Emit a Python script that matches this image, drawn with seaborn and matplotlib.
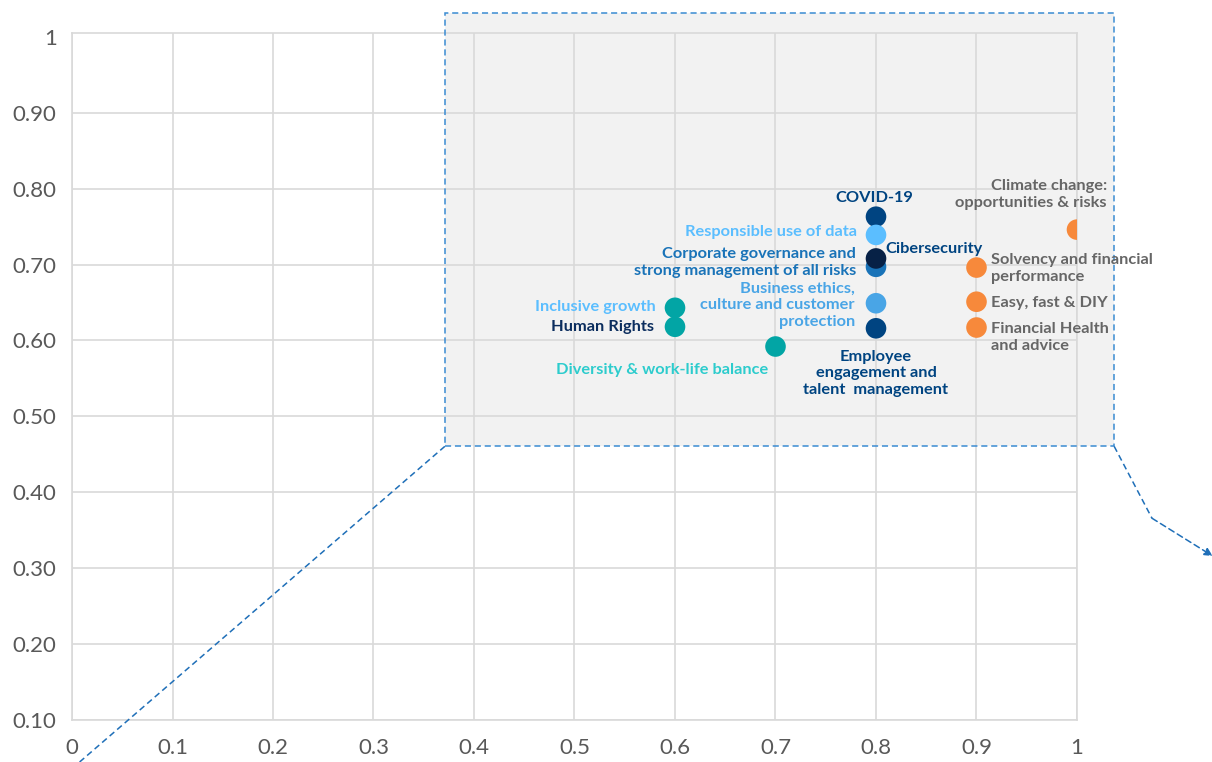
import numpy as np
import pandas as pd
import matplotlib
matplotlib.use("Agg")
import matplotlib.pyplot as plt
from matplotlib.patches import Rectangle
import seaborn as sns

# materiality topics (x = relevance for business, y = relevance for stakeholders)
topics = [
    "COVID-19",
    "Responsible use of data",
    "Corporate governance and\nstrong management of all risks",
    "Cibersecurity",
    "Business ethics,\nculture and customer\nprotection",
    "Employee\nengagement and\ntalent  management",
    "Inclusive growth",
    "Human Rights",
    "Diversity & work-life balance",
    "Climate change:\nopportunities & risks",
    "Solvency and financial\nperformance",
    "Easy, fast & DIY",
    "Financial Health\nand advice",
]
x_vals = [0.80, 0.80, 0.80, 0.80, 0.80, 0.80, 0.60, 0.60, 0.70, 1.00, 0.90, 0.90, 0.90]
y_vals = [0.763, 0.739, 0.697, 0.708, 0.649, 0.616, 0.643, 0.618, 0.592, 0.746, 0.696, 0.651, 0.617]
dot_colors = ["#004481", "#5BBEFF", "#1973B8", "#072146", "#49A5E6", "#004481",
              "#02A5A5", "#02A5A5", "#02A5A5", "#F7893B", "#F7893B", "#F7893B", "#F7893B"]
label_colors = ["#004481", "#5BBEFF", "#1973B8", "#004481", "#49A5E6", "#004481",
                "#5BBEFF", "#0B2D5E", "#2DCCCD", "#666666", "#666666", "#666666", "#666666"]

x_ticks = [0, 0.1, 0.2, 0.3, 0.4, 0.5, 0.6, 0.7, 0.8, 0.9, 1.0]
x_tick_labels = ["0", "0.1", "0.2", "0.3", "0.4", "0.5", "0.6", "0.7", "0.8", "0.9", "1"]
y_ticks = [0.1, 0.2, 0.3, 0.4, 0.5, 0.6, 0.7, 0.8, 0.9, 1.0]
y_tick_labels = ["0.10", "0.20", "0.30", "0.40", "0.50", "0.60", "0.70", "0.80", "0.90", "1"]

# label placement: (dx px, dy px, ha)
label_layout = {
    "COVID-19": (-2, 19, "center"),
    "Responsible use of data": (-19, 3, "right"),
    "Corporate governance and\nstrong management of all risks": (-20, 4, "right"),
    "Cibersecurity": (9, 9, "left"),
    "Business ethics,\nculture and customer\nprotection": (-21, -2, "right"),
    "Employee\nengagement and\ntalent  management": (0, -45, "center"),
    "Inclusive growth": (-19, 1, "right"),
    "Human Rights": (-21, 0, "right"),
    "Diversity & work-life balance": (-7, -23, "right"),
    "Climate change:\nopportunities & risks": (30, 35, "right"),
    "Solvency and financial\nperformance": (15, -1, "left"),
    "Easy, fast & DIY": (15, -1, "left"),
    "Financial Health\nand advice": (15, -10, "left"),
}

sns.set_theme(style="whitegrid")
plt.rcParams["font.family"] = ["Lato", "DejaVu Sans"]

df = pd.DataFrame({"topic": topics, "x": x_vals, "y": y_vals})
palette = dict(zip(topics, dot_colors))

fig = plt.figure(figsize=(12.12, 7.62), dpi=100)
ax = fig.add_axes([72 / 1212, 1 - 720 / 762, (1077 - 72) / 1212, (720 - 33) / 762])

# zoom box and callout lines
box_blue = "#3A8BD2"
line_blue = "#1F6FB8"
dash = (0, (4, 2.5))
ax.add_patch(Rectangle((0.371, 0.4605), 0.666, 0.571, facecolor="#F2F2F2",
                       edgecolor="none", zorder=0.2, clip_on=False))
ax.add_patch(Rectangle((0.371, 0.4605), 0.666, 0.571, facecolor="none",
                       edgecolor=box_blue, linewidth=1.1, linestyle=dash,
                       zorder=3, clip_on=False))
ax.plot([0.371, 0.0035], [0.4605, 0.040], color=line_blue, linewidth=1.1,
        linestyle=dash, clip_on=False, zorder=3)
ax.plot([1.037, 1.0746], [0.4605, 0.3658], color=line_blue, linewidth=1.1,
        linestyle=dash, clip_on=False, zorder=3)
ax.annotate("", xy=(1.135, 0.316), xytext=(1.0746, 0.3658),
            arrowprops=dict(arrowstyle="-|>", color=line_blue, lw=1.1,
                            linestyle=dash, mutation_scale=12,
                            shrinkA=0, shrinkB=0),
            annotation_clip=False, zorder=3)

sns.scatterplot(data=df, x="x", y="y", hue="topic", palette=palette, s=220,
                linewidth=0, legend=False, ax=ax, zorder=4)

for t, xv, yv, c in zip(topics, x_vals, y_vals, label_colors):
    dx, dy, ha = label_layout[t]
    ax.annotate(t, xy=(xv, yv), xytext=(dx, dy), textcoords="offset pixels",
                ha=ha, va="center", multialignment=ha, color=c, fontsize=11.8,
                fontweight="bold", linespacing=1.25, zorder=5, annotation_clip=False)

ax.set_xlim(0, 1.0)
ax.set_ylim(0.1, 1.005)
ax.set_xticks(x_ticks)
ax.set_xticklabels(x_tick_labels)
ax.set_yticks(y_ticks)
ax.set_yticklabels(y_tick_labels)
ax.set_xlabel("")
ax.set_ylabel("")
ax.set_axisbelow(True)
ax.grid(True, color="#D9D9D9", linewidth=1.2)
ax.yaxis.get_gridlines()[-1].set_visible(False)
ax.set_facecolor("none")
for sp in ax.spines.values():
    sp.set_color("#D9D9D9")
    sp.set_linewidth(1.2)
ax.tick_params(axis="x", length=0, pad=13, labelsize=16, labelcolor="#595959")
ax.tick_params(axis="y", length=0, pad=11, labelsize=16, labelcolor="#595959")

fig.savefig("out.png", dpi=100)
